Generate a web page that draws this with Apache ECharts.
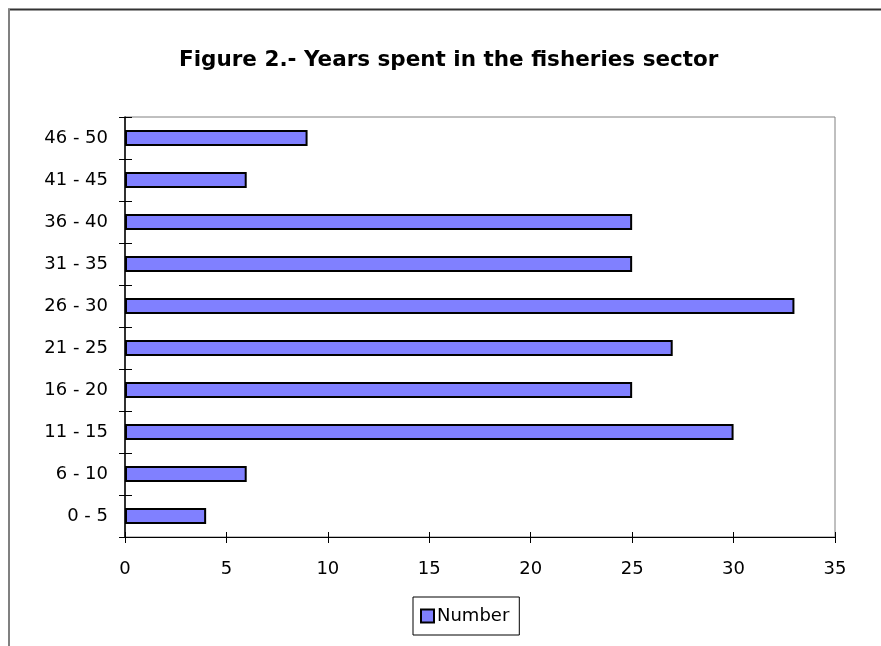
<!DOCTYPE html>
<html>
<head>
<meta charset="utf-8">
<script src="https://cdn.jsdelivr.net/npm/echarts@6/dist/echarts.min.js"></script>
<style>
  html, body { margin: 0; padding: 0; background: #ffffff; }
  #chart { width: 881px; height: 646px; }
</style>
</head>
<body>
<div id="chart"></div>
<script>
// Years spent in the fisheries sector, grouped in five-year bands
const yearBands = ['0 - 5', '6 - 10', '11 - 15', '16 - 20', '21 - 25',
                   '26 - 30', '31 - 35', '36 - 40', '41 - 45', '46 - 50'];
const numberOfFishers = [4, 6, 30, 25, 27, 33, 25, 25, 6, 9];
const seriesName = 'Number';
const titleText = 'Figure 2.- Years spent in the fisheries sector';

const FONT = '"DejaVu Sans", "Liberation Sans", Arial, sans-serif';
const GRID = { left: 125, top: 117, width: 710, height: 420 };

const chart = echarts.init(document.getElementById('chart'), null, { renderer: 'canvas' });

const valueAxisBase = { type: 'value', min: 0, max: 35, interval: 5, splitLine: { show: false } };
const catAxisBase = { type: 'category', data: yearBands, boundaryGap: true };

chart.setOption({
  backgroundColor: '#ffffff',
  animation: false,
  title: {
    text: titleText,
    left: 179,
    top: 49,
    padding: 0,
    textStyle: { fontFamily: FONT, fontSize: 21.5, fontWeight: 'bold', color: '#000000' }
  },
  legend: {
    data: [seriesName],
    left: 413,
    top: 597,
    padding: [10, 10, 10, 7],
    borderColor: '#000000',
    borderWidth: 1,
    icon: 'rect',
    itemWidth: 13,
    itemHeight: 13,
    itemGap: 0,
    textStyle: { fontFamily: FONT, fontSize: 18, color: '#000000', padding: [0, 0, 0, -2] }
  },
  grid: {
    left: GRID.left, top: GRID.top, width: GRID.width, height: GRID.height,
    show: true, borderColor: '#808080', borderWidth: 1, backgroundColor: 'transparent'
  },
  xAxis: [
    Object.assign({}, valueAxisBase, {
      position: 'bottom',
      axisLine: { show: true, lineStyle: { color: '#000000', width: 1 } },
      axisTick: { show: true, inside: false, length: 6, lineStyle: { color: '#000000' } },
      axisLabel: { fontFamily: FONT, fontSize: 18, color: '#000000', margin: 23 }
    }),
    // inner half of the cross ticks on the value axis
    Object.assign({}, valueAxisBase, {
      position: 'bottom',
      axisLine: { show: false },
      axisTick: { show: true, inside: true, length: 5, lineStyle: { color: '#000000' } },
      axisLabel: { show: false }
    })
  ],
  yAxis: [
    Object.assign({}, catAxisBase, {
      position: 'left',
      axisLine: { show: true, lineStyle: { color: '#000000', width: 1.5 } },
      axisTick: { show: true, inside: false, length: 6, alignWithLabel: false, lineStyle: { color: '#000000' } },
      axisLabel: { fontFamily: FONT, fontSize: 18, color: '#000000', margin: 17 }
    }),
    // inner half of the cross ticks on the category axis
    Object.assign({}, catAxisBase, {
      position: 'left',
      axisLine: { show: false },
      axisTick: { show: true, inside: true, length: 7, lineStyle: { color: '#000000' } },
      axisLabel: { show: false }
    })
  ],
  series: [{
    name: seriesName,
    type: 'bar',
    xAxisIndex: 0,
    yAxisIndex: 0,
    data: numberOfFishers,
    barWidth: 16,
    itemStyle: { color: '#8080ff', borderColor: '#000000', borderWidth: 2 }
  }],
  graphic: [
    // outer frame: top and left edges
    { type: 'line', shape: { x1: 8, y1: 9.5, x2: 881, y2: 9.5 },
      style: { stroke: '#333333', lineWidth: 2 }, silent: true },
    { type: 'line', shape: { x1: 9, y1: 9, x2: 9, y2: 646 },
      style: { stroke: '#808080', lineWidth: 2 }, silent: true }
  ]
});
</script>
</body>
</html>
